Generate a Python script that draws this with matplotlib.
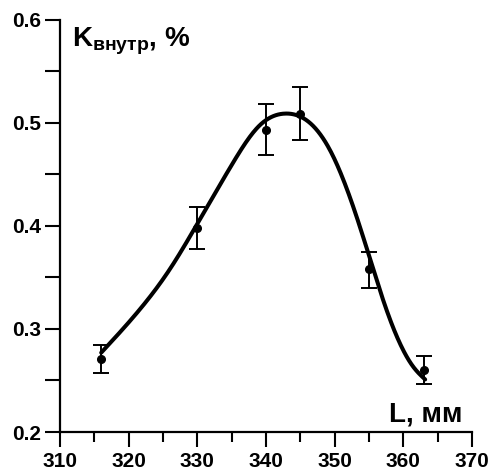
import numpy as np
import matplotlib
matplotlib.use("Agg")
import matplotlib.pyplot as plt
from matplotlib.ticker import MultipleLocator

plt.rcParams['font.family'] = ['Liberation Sans', 'DejaVu Sans']
plt.rcParams['font.weight'] = 'bold'
plt.rcParams['mathtext.fontset'] = 'custom'
plt.rcParams['mathtext.rm'] = 'Liberation Sans:bold'
plt.rcParams['mathtext.it'] = 'Liberation Sans:bold'
plt.rcParams['mathtext.bf'] = 'Liberation Sans:bold'

# measured points
L = [316, 330, 340, 345, 355, 363]
K = [0.271, 0.398, 0.493, 0.509, 0.358, 0.260]
err_lo = [0.014, 0.020, 0.024, 0.026, 0.018, 0.013]
err_hi = [0.013, 0.020, 0.025, 0.026, 0.017, 0.014]

# fitted curve
fit_L = [316, 322, 326, 330, 335, 339, 342.8, 346.4, 349.3, 353.7,
         357.6, 361.5, 363.2]
fit_K = [0.277, 0.322, 0.358, 0.402, 0.459, 0.497, 0.509, 0.500, 0.474,
         0.399, 0.318, 0.263, 0.251]


def natural_spline(x, y, xs):
    # plain natural cubic spline, enough for a smooth line through the readings
    x = np.asarray(x, float)
    y = np.asarray(y, float)
    n = len(x)
    h = np.diff(x)
    A = np.zeros((n, n))
    r = np.zeros(n)
    A[0, 0] = A[-1, -1] = 1
    for i in range(1, n - 1):
        A[i, i - 1] = h[i - 1]
        A[i, i] = 2 * (h[i - 1] + h[i])
        A[i, i + 1] = h[i]
        r[i] = 6 * ((y[i + 1] - y[i]) / h[i] - (y[i] - y[i - 1]) / h[i - 1])
    m = np.linalg.solve(A, r)
    k = np.clip(np.searchsorted(x, xs) - 1, 0, n - 2)
    t1 = x[k + 1] - xs
    t0 = xs - x[k]
    hk = h[k]
    return (m[k] * t1**3 / (6 * hk) + m[k + 1] * t0**3 / (6 * hk)
            + (y[k] / hk - m[k] * hk / 6) * t1
            + (y[k + 1] / hk - m[k + 1] * hk / 6) * t0)


xs = np.linspace(min(fit_L), max(fit_L), 400)
ys = natural_spline(fit_L, fit_K, xs)

fig = plt.figure(figsize=(4.92, 4.76), dpi=100)
ax = fig.add_axes([0.122, 0.0924, 0.837, 0.866])

ax.plot(xs, ys, color='black', lw=2.9, solid_capstyle='round')
ax.errorbar(L, K, yerr=[err_lo, err_hi], fmt='o', color='black',
            ms=5.5, elinewidth=1.4, capsize=5.5, capthick=1.4)

ax.set_xlim(310, 370)
ax.set_ylim(0.2, 0.6)
ax.xaxis.set_major_locator(MultipleLocator(10))
ax.xaxis.set_minor_locator(MultipleLocator(5))
ax.yaxis.set_major_locator(MultipleLocator(0.1))
ax.yaxis.set_minor_locator(MultipleLocator(0.05))
ax.yaxis.set_major_formatter(plt.FuncFormatter(lambda v, p: f"{v:.1f}"))

for s in ['top', 'right']:
    ax.spines[s].set_visible(False)
for s in ['left', 'bottom']:
    ax.spines[s].set_linewidth(1.6)

ax.tick_params(which='major', direction='out', length=10.5, width=1.5,
               labelsize=15)
ax.tick_params(axis='y', which='major', pad=3)
ax.tick_params(axis='x', which='major', pad=4)
ax.tick_params(axis='y', which='minor', direction='out', length=10.5, width=1.5)
ax.tick_params(axis='x', which='minor', direction='out', length=7, width=1.5)

ax.text(0.029, 0.985, r"$\mathrm{K_{внутр}}$, %", transform=ax.transAxes,
        fontsize=20, fontweight='bold', va='top', ha='left')
ax.text(0.978, 0.012, "L, мм", transform=ax.transAxes,
        fontsize=20, fontweight='bold', va='bottom', ha='right')

fig.savefig("out.png", dpi=100)
